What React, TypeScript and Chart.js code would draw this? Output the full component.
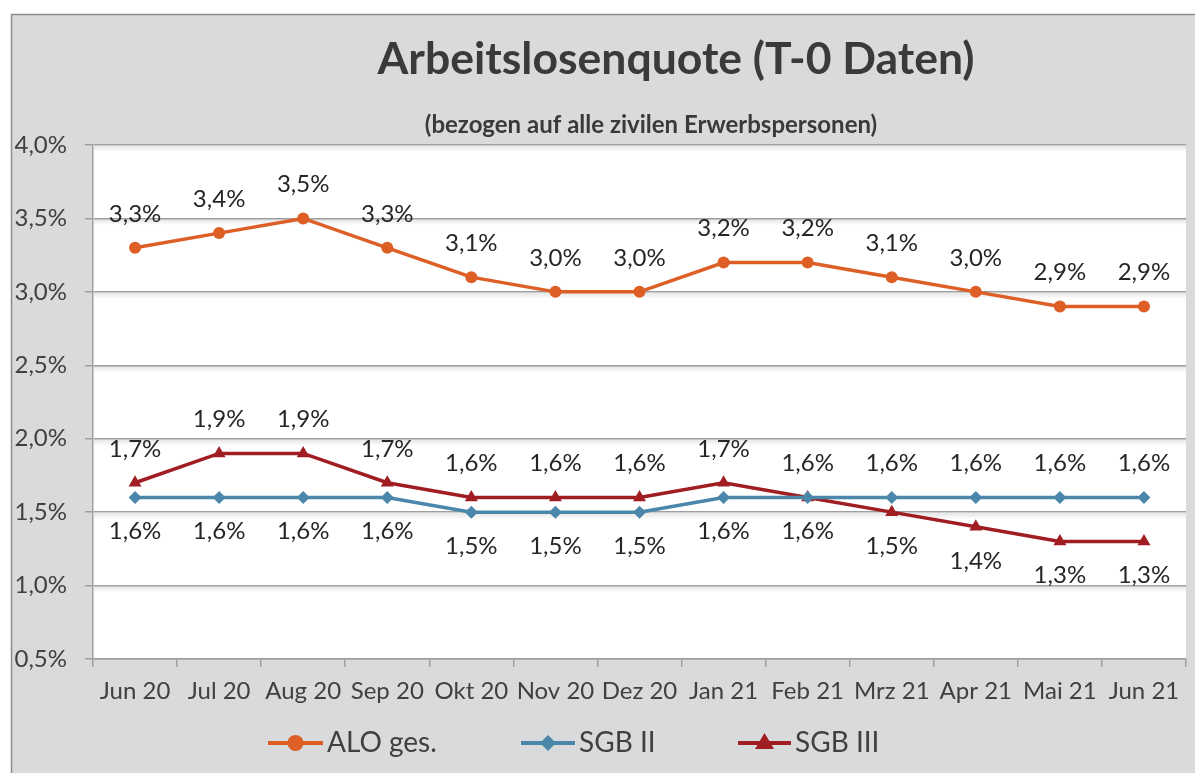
import React, { useEffect, useRef } from 'react';
import { Chart, registerables } from 'chart.js';

Chart.register(...registerables);

const categories = ['Jun 20', 'Jul 20', 'Aug 20', 'Sep 20', 'Okt 20', 'Nov 20', 'Dez 20', 'Jan 21', 'Feb 21', 'Mrz 21', 'Apr 21', 'Mai 21', 'Jun 21'];
const aloValues = [3.3, 3.4, 3.5, 3.3, 3.1, 3.0, 3.0, 3.2, 3.2, 3.1, 3.0, 2.9, 2.9];
const sgb2Values = [1.6, 1.6, 1.6, 1.6, 1.5, 1.5, 1.5, 1.6, 1.6, 1.6, 1.6, 1.6, 1.6];
const sgb3Values = [1.7, 1.9, 1.9, 1.7, 1.6, 1.6, 1.6, 1.7, 1.6, 1.5, 1.4, 1.3, 1.3];
const seriesNames = ['ALO ges.', 'SGB II', 'SGB III'];
const yMin = 0.5;
const yMax = 4.0;
const yStep = 0.5;

const titleText = 'Arbeitslosenquote (T-0 Daten)';
const subtitleText = '(bezogen auf alle zivilen Erwerbspersonen)';

const FONT = 'Lato, "Open Sans", sans-serif';
const COL_ALO = '#dd5f26';
const COL_SGB2 = '#4a87aa';
const COL_SGB3 = '#a01d22';
const TEXT = '#404040';
const GRID = '#9f9f9f';
const BG = '#d9dadc';

const fmt = (v: number) => v.toFixed(1).replace('.', ',') + '%';

function drawMarker(ctx: CanvasRenderingContext2D, style: string, x: number, y: number, r: number, color: string) {
  ctx.save();
  ctx.fillStyle = color;
  ctx.beginPath();
  if (style === 'circle') {
    ctx.arc(x, y, r, 0, Math.PI * 2);
  } else if (style === 'rectRot') {
    ctx.moveTo(x, y - r);
    ctx.lineTo(x + r, y);
    ctx.lineTo(x, y + r);
    ctx.lineTo(x - r, y);
    ctx.closePath();
  } else {
    ctx.moveTo(x, y - r);
    ctx.lineTo(x + r * 0.95, y + r * 0.6);
    ctx.lineTo(x - r * 0.95, y + r * 0.6);
    ctx.closePath();
  }
  ctx.fill();
  ctx.restore();
}

const backgroundPlugin = {
  id: 'bgPlugin',
  beforeDraw(chart: any) {
    const { ctx, width, height, chartArea } = chart;
    ctx.save();
    ctx.fillStyle = '#ffffff';
    ctx.fillRect(0, 0, width, height);
    ctx.fillStyle = BG;
    ctx.fillRect(11, 14, width - 11, height - 14);
    ctx.strokeStyle = '#8c8c8c';
    ctx.lineWidth = 1.5;
    ctx.beginPath();
    ctx.moveTo(11.5, height);
    ctx.lineTo(11.5, 14.5);
    ctx.lineTo(width, 14.5);
    ctx.stroke();
    ctx.fillStyle = '#ffffff';
    ctx.fillRect(chartArea.left, chartArea.top, chartArea.right - chartArea.left, chartArea.bottom - chartArea.top);
    // title
    ctx.fillStyle = '#3a3a3a';
    ctx.textAlign = 'center';
    ctx.textBaseline = 'middle';
    ctx.font = `bold 44.5px ${FONT}`;
    ctx.fillText(titleText, 676, 60);
    ctx.font = `bold 24px ${FONT}`;
    ctx.fillText(subtitleText, 651, 125);
    ctx.restore();
  },
  beforeDatasetsDraw(chart: any) {
    const { ctx, chartArea, scales } = chart;
    const ys = scales.y;
    ctx.save();
    const ticks = ys.ticks.map((t: any) => t.value);
    ticks.forEach((v: number) => {
      const py = ys.getPixelForValue(v);
      if (py >= chartArea.bottom - 1) return;
      const g = ctx.createLinearGradient(0, py + 1, 0, py + 7);
      g.addColorStop(0, 'rgba(0,0,0,0.10)');
      g.addColorStop(1, 'rgba(0,0,0,0)');
      ctx.fillStyle = g;
      ctx.fillRect(chartArea.left + 1, py + 1, chartArea.right - chartArea.left - 1, 6);
    });
    ctx.restore();
  },
};

const labelPlugin = {
  id: 'labelPlugin',
  afterDatasetsDraw(chart: any) {
    const { ctx } = chart;
    const off = 34;
    ctx.save();
    ctx.font = `24px ${FONT}`;
    ctx.fillStyle = '#262626';
    ctx.textAlign = 'center';
    ctx.textBaseline = 'middle';
    chart.data.datasets.forEach((ds: any, di: number) => {
      const meta = chart.getDatasetMeta(di);
      meta.data.forEach((pt: any, i: number) => {
        const v = ds.data[i];
        let above = true;
        if (di === 1) above = sgb2Values[i] > sgb3Values[i];
        if (di === 2) above = sgb3Values[i] >= sgb2Values[i];
        ctx.fillText(fmt(v), pt.x, pt.y + (above ? -off : off));
      });
    });
    ctx.restore();
  },
};

const legendPlugin = {
  id: 'customLegend',
  afterDraw(chart: any) {
    const { ctx } = chart;
    const y = 743;
    const items = [
      { name: seriesNames[0], color: COL_ALO, style: 'circle', x0: 268, x1: 323, r: 8 },
      { name: seriesNames[1], color: COL_SGB2, style: 'rectRot', x0: 521, x1: 575, r: 8 },
      { name: seriesNames[2], color: COL_SGB3, style: 'triangle', x0: 738, x1: 791, r: 10 },
    ];
    ctx.save();
    items.forEach((it) => {
      ctx.strokeStyle = it.color;
      ctx.lineWidth = 4;
      ctx.beginPath();
      ctx.moveTo(it.x0, y);
      ctx.lineTo(it.x1, y);
      ctx.stroke();
      drawMarker(ctx, it.style, (it.x0 + it.x1) / 2, y, it.r, it.color);
      ctx.fillStyle = TEXT;
      ctx.font = `28px ${FONT}`;
      ctx.textAlign = 'left';
      ctx.textBaseline = 'middle';
      ctx.fillText(it.name, it.x1 + 4, y);
    });
    ctx.restore();
  },
};

export default function App() {
  const ref = useRef<HTMLCanvasElement | null>(null);
  useEffect(() => {
    if (!ref.current) return;
    const chart = new Chart(ref.current, {
      type: 'line',
      data: {
        labels: categories,
        datasets: [
          {
            label: seriesNames[0],
            data: aloValues,
            borderColor: COL_ALO,
            backgroundColor: COL_ALO,
            borderWidth: 3.5,
            pointStyle: 'circle',
            pointRadius: 6,
            pointBorderWidth: 0,
            tension: 0,
          },
          {
            label: seriesNames[1],
            data: sgb2Values,
            borderColor: COL_SGB2,
            backgroundColor: COL_SGB2,
            borderWidth: 3.5,
            pointStyle: 'rectRot',
            pointRadius: 6.5,
            pointBorderWidth: 0,
            tension: 0,
          },
          {
            label: seriesNames[2],
            data: sgb3Values,
            borderColor: COL_SGB3,
            backgroundColor: COL_SGB3,
            borderWidth: 3.5,
            pointStyle: 'triangle',
            pointRadius: 7.5,
            pointBorderWidth: 0,
            tension: 0,
          },
        ],
      },
      options: {
        responsive: false,
        animation: false,
        layout: { padding: { left: 0, top: 145, right: 9, bottom: 0 } },
        plugins: {
          legend: { display: false },
          title: { display: false },
          tooltip: { enabled: false },
        },
        scales: {
          x: {
            type: 'category',
            offset: true,
            afterFit: (s: any) => { s.height = 114; },
            grid: {
              display: true,
              offset: true,
              drawOnChartArea: false,
              drawTicks: true,
              tickLength: 8,
              color: GRID,
              lineWidth: 1.5,
            },
            border: { display: true, color: GRID, width: 1.5 },
            ticks: {
              color: TEXT,
              font: { family: FONT, size: 24 },
              padding: 10,
              maxRotation: 0,
              autoSkip: false,
            },
          },
          y: {
            min: yMin,
            max: yMax,
            afterFit: (s: any) => { s.width = 93; },
            grid: {
              color: GRID,
              lineWidth: 1.5,
              tickLength: 8,
              drawTicks: true,
            },
            border: { display: true, color: GRID, width: 1.5 },
            ticks: {
              stepSize: yStep,
              color: TEXT,
              font: { family: FONT, size: 24 },
              padding: 18,
              callback: (v: any) => fmt(Number(v)),
            },
          },
        },
      },
      plugins: [backgroundPlugin, labelPlugin, legendPlugin],
    } as any);
    return () => chart.destroy();
  }, []);
  return (
    <div style={{ position: 'absolute', left: 0, top: 0, width: 1195, height: 773 }}>
      <canvas ref={ref} width={1195} height={773} />
    </div>
  );
}
